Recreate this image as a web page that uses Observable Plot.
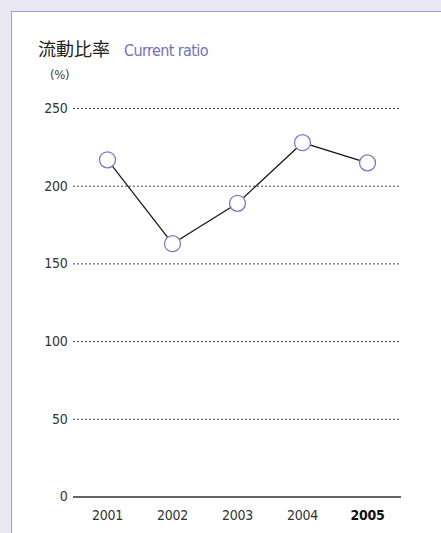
<!DOCTYPE html>
<html>
<head>
<meta charset="utf-8">
<script src="https://cdn.jsdelivr.net/npm/d3@7"></script>
<script src="https://cdn.jsdelivr.net/npm/@observablehq/plot@0.6"></script>
<style>
  html, body { margin: 0; padding: 0; }
  body { width: 441px; height: 533px; background: #e9e7f3; position: relative; overflow: hidden;
         font-family: "DejaVu Sans Condensed", "DejaVu Sans", sans-serif; font-stretch: condensed; }
  #panel { position: absolute; left: 11px; top: 11px; width: 450px; height: 540px; background: #fff;
           border-left: 1.5px solid #a29ed3; border-top: 1.5px solid #a29ed3; }
  #title { position: absolute; left: 38px; top: 35px; white-space: nowrap; }
  #title .jp { font-family: "Noto Sans CJK JP", sans-serif; font-size: 18px; color: #222; font-stretch: normal; }
  #title .en { font-size: 16px; color: #7470b8; margin-left: 14px; letter-spacing: -0.6px; }
  #unit { position: absolute; left: 50px; top: 67px; font-size: 13px; color: #444; letter-spacing: -0.3px; }
  #chart { position: absolute; left: 0; top: 60px; }
  #chart svg text { font-stretch: condensed; letter-spacing: -0.3px; }
</style>
</head>
<body>
<div id="panel"></div>
<div id="title"><span class="jp">流動比率</span><span class="en">Current ratio</span></div>
<div id="unit">(%)</div>
<div id="chart"></div>
<script>
const years = ["2001", "2002", "2003", "2004", "2005"];
const ratios = [217, 163, 189, 228, 215];
const yTicks = [0, 50, 100, 150, 200, 250];
const gridTicks = [50, 100, 150, 200, 250];

const data = years.map((y, i) => ({year: y, value: ratios[i]}));

const chart = Plot.plot({
  width: 441,
  height: 473,
  marginTop: 48,
  marginBottom: 36.5,
  marginLeft: 73,
  marginRight: 40,
  style: {fontFamily: '"DejaVu Sans Condensed", "DejaVu Sans", sans-serif', fontSize: "14px", color: "#333", background: "transparent"},
  x: {type: "point", domain: years, padding: 0.5, label: null},
  y: {domain: [0, 250], label: null},
  marks: [
    Plot.ruleY(gridTicks, {stroke: "#444", strokeWidth: 1, strokeDasharray: "2,2"}),
    Plot.ruleY([0], {stroke: "#333", strokeWidth: 1.6}),
    Plot.axisY({ticks: yTicks, tickSize: 0, tickPadding: 6, fontSize: 14, fill: "#333"}),
    Plot.axisX({tickSize: 0, tickPadding: 13, fontSize: 14, fill: "#333"}),
    Plot.line(data, {x: "year", y: "value", stroke: "#111", strokeWidth: 1.2}),
    Plot.dot(data, {x: "year", y: "value", r: 8, fill: "#fff", stroke: "#7b77c2", strokeWidth: 1.3})
  ]
});

d3.select(chart).selectAll("text").filter(function() { return this.textContent === "2005"; })
  .attr("font-weight", "bold").attr("fill", "#111");

document.getElementById("chart").appendChild(chart);
</script>
</body>
</html>
